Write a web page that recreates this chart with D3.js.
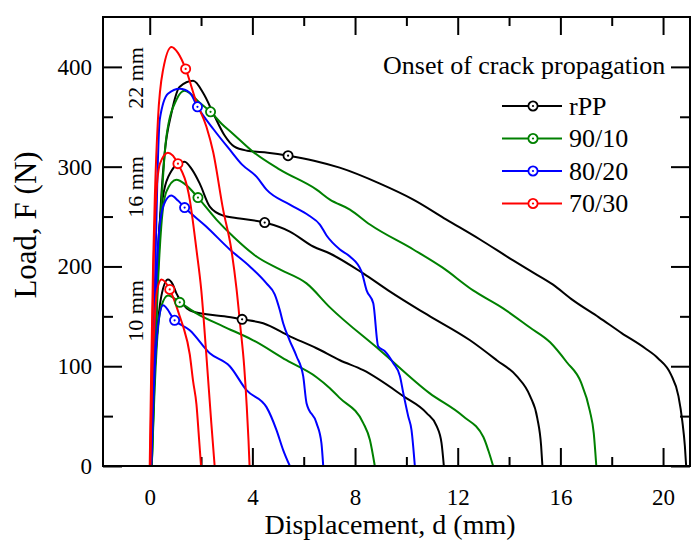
<!DOCTYPE html>
<html>
<head>
<meta charset="utf-8">
<script src="https://cdn.jsdelivr.net/npm/d3@7"></script>
<style>
body{margin:0;background:#fff;}
svg{display:block;font-family:"Liberation Serif","Times New Roman",serif;}
</style>
</head>
<body>
<svg id="chart" width="692" height="540"></svg>
<script>
// legend / series
const materials = ["rPP", "90/10", "80/20", "70/30"];
const colors = ["#000000", "#008000", "#0000ff", "#ff0000"];
const sizeLabels = ["10 mm", "16 mm", "22 mm"];
const xTicks = [0, 4, 8, 12, 16, 20];
const yTicks = [0, 100, 200, 300, 400];

// load-displacement curves [d (mm), F (N)]
const rPP_10 = [[0.05,0],[0.15,70],[0.28,130],[0.45,170],[0.71,187],[0.9,182],[1.04,173],[1.3,162],[1.56,156],[2.21,152],[2.9,150],[3.6,147],[4.42,143],[5.46,130],[6.5,118],[7.41,106],[8.32,96],[9.88,70],[10.79,53],[11.18,40],[11.37,23],[11.46,0]];
const rPP_16 = [[0.05,0],[0.12,80],[0.22,160],[0.35,230],[0.55,275],[0.85,296],[1.1,303],[1.36,305],[1.65,297],[1.95,283],[2.34,260],[2.86,251],[3.51,248],[4.48,244],[5.46,235],[6.37,220],[7.02,213],[8.32,193],[9.29,176],[10.53,156],[10.92,150],[12.48,126],[13.52,106],[14.3,90],[14.82,70],[15.1,48],[15.25,20],[15.3,0]];
const rPP_22 = [[0.05,0],[0.15,90],[0.3,190],[0.45,270],[0.58,313],[0.85,354],[1.17,380],[1.69,386],[2.1,373],[2.5,352],[2.9,332],[3.3,320],[3.8,316],[4.6,314],[5.4,311],[6.4,306],[7.4,299],[8.97,283],[10.27,267],[11.56,247],[12.87,227],[14.16,206],[14.8,196],[15.7,182],[16.5,166],[17.5,149],[18.4,133],[19.3,118],[19.8,108],[20.3,92],[20.6,70],[20.75,45],[20.85,20],[20.9,0]];

const b9010_10 = [[0.08,0],[0.18,70],[0.3,130],[0.45,160],[0.71,171],[1.17,164],[1.82,153],[2.86,140],[4.03,126],[5.33,106],[6.5,89],[7.02,78],[7.41,68],[8.32,43],[8.58,26],[8.77,0]];
const b9010_16 = [[0.08,0],[0.18,80],[0.3,170],[0.45,240],[0.65,275],[1.04,287],[1.4,282],[1.88,269],[2.6,247],[3.25,230],[4.16,210],[5.07,197],[6.11,183],[7.02,159],[8.97,116],[10.9,73],[12.2,50],[13.0,29],[13.2,15],[13.38,0]];
const b9010_22 = [[0.08,0],[0.18,90],[0.3,180],[0.45,260],[0.65,330],[1.04,367],[1.36,376],[1.95,364],[2.37,355],[2.8,343],[3.24,333],[4.02,315],[5.07,297],[6.5,277],[7.02,267],[7.8,257],[8.58,242],[10.27,217],[11.4,199],[12.6,176],[13.77,158],[14.8,139],[15.6,124],[16.25,104],[16.8,84],[17.15,55],[17.3,33],[17.4,0]];

const b8020_10 = [[0.06,0],[0.15,70],[0.28,130],[0.52,161],[0.97,146],[1.56,136],[2.34,113],[3.12,100],[3.77,76],[4.55,59],[4.94,36],[5.2,16],[5.46,0]];
const b8020_16 = [[0.05,0],[0.12,80],[0.22,160],[0.35,230],[0.55,262],[0.84,271],[1.1,266],[1.36,259],[2.2,240],[3.12,217],[3.9,200],[4.55,183],[4.87,172],[5.07,156],[5.2,143],[5.45,126],[5.72,110],[5.98,90],[6.11,63],[6.5,43],[6.69,23],[6.76,0]];
const b8020_22 = [[0.05,0],[0.12,100],[0.22,200],[0.3,290],[0.39,347],[0.71,373],[1.17,378],[1.56,374],[1.86,360],[2.5,337],[3.12,317],[3.6,302],[4.16,290],[4.55,277],[5.46,262],[6.2,251],[6.63,242],[6.89,231],[7.41,217],[7.8,210],[8.25,195],[8.45,176],[8.71,163],[8.9,120],[9.16,115],[9.49,103],[9.75,90],[9.88,73],[10.07,50],[10.2,36],[10.33,0]];

const b7030_10 = [[0.02,0],[0.1,90],[0.2,150],[0.3,178],[0.46,187],[0.78,177],[1.0,163],[1.17,150],[1.3,140],[1.56,112],[1.69,85],[1.82,62],[1.92,28],[2.0,0]];
const b7030_16 = [[0.02,0],[0.08,100],[0.15,200],[0.25,270],[0.4,303],[0.71,314],[1.1,303],[1.56,267],[1.82,217],[2.01,176],[2.21,110],[2.4,43],[2.53,0]];
const b7030_22 = [[0.0,0],[0.06,100],[0.13,200],[0.2,270],[0.32,347],[0.52,397],[0.85,420],[1.1,414],[1.4,398],[1.8,366],[2.21,340],[2.47,315],[2.86,257],[3.18,217],[3.38,178],[3.53,140],[3.68,100],[3.78,60],[3.85,25],[3.89,0]];

// onset of crack propagation (10, 16, 22 mm)
const onset_rPP = [[3.6,147],[4.48,244],[5.39,311]];
const onset_9010 = [[1.17,164],[1.88,269],[2.37,355]];
const onset_8020 = [[0.97,146],[1.36,259],[1.86,360]];
const onset_7030 = [[0.78,177],[1.1,303],[1.4,398]];

const curves = [rPP_10, rPP_16, rPP_22, b9010_10, b9010_16, b9010_22,
                b8020_10, b8020_16, b8020_22, b7030_10, b7030_16, b7030_22];
const onsets = [onset_rPP, onset_9010, onset_8020, onset_7030];

const margin = {top: 17, left: 103, right: 2, bottom: 74};
const W = 692, H = 540;
const width = W - margin.left - margin.right;
const height = H - margin.top - margin.bottom;

const svg = d3.select("#chart");
const g = svg.append("g").attr("transform", `translate(${margin.left},${margin.top})`);

const x = d3.scaleLinear().domain([-1.82, 21.05]).range([0, width]);
const y = d3.scaleLinear().domain([0, 450]).range([height, 0]);

const minorX = d3.range(2, 22, 4);
const minorY = d3.range(50, 450, 100);

function styleAxis(sel, fs) {
  sel.select(".domain").remove();
  sel.selectAll(".tick line").attr("stroke", "#000").attr("stroke-width", 2);
  sel.selectAll(".tick text").attr("font-size", fs).attr("fill", "#000")
     .attr("font-family", "'Liberation Serif','Times New Roman',serif");
}

// major ticks
g.append("g").attr("transform", `translate(0,${height})`)
  .call(d3.axisBottom(x).tickValues(xTicks).tickSize(-18).tickPadding(23))
  .call(s => styleAxis(s, 23));
g.append("g")
  .call(d3.axisTop(x).tickValues(xTicks).tickSize(-18).tickFormat(""))
  .call(s => styleAxis(s, 23));
g.append("g")
  .call(d3.axisLeft(y).tickValues(yTicks).tickSize(-19).tickPadding(11))
  .call(s => styleAxis(s, 23));
g.append("g").attr("transform", `translate(${width},0)`)
  .call(d3.axisRight(y).tickValues(yTicks).tickSize(-19).tickFormat(""))
  .call(s => styleAxis(s, 23));
// minor ticks
g.append("g").attr("transform", `translate(0,${height})`)
  .call(d3.axisBottom(x).tickValues(minorX).tickSize(-9).tickFormat(""))
  .call(s => styleAxis(s, 23));
g.append("g")
  .call(d3.axisTop(x).tickValues(minorX).tickSize(-9).tickFormat(""))
  .call(s => styleAxis(s, 23));
g.append("g")
  .call(d3.axisLeft(y).tickValues(minorY).tickSize(-10).tickFormat(""))
  .call(s => styleAxis(s, 23));
g.append("g").attr("transform", `translate(${width},0)`)
  .call(d3.axisRight(y).tickValues(minorY).tickSize(-10).tickFormat(""))
  .call(s => styleAxis(s, 23));

// curves
const line = d3.line().x(d => x(d[0])).y(d => y(d[1])).curve(d3.curveMonotoneX);
g.append("g").selectAll("path")
  .data(curves)
  .join("path")
  .attr("d", line)
  .attr("fill", "none")
  .attr("stroke", (d, i) => colors[Math.floor(i / 3)])
  .attr("stroke-width", 2)
  .attr("stroke-linejoin", "round");

// onset markers
function marker(sel, color) {
  sel.append("circle").attr("r", 4.6).attr("fill", "#fff")
    .attr("stroke", color).attr("stroke-width", 1.8);
  sel.append("circle").attr("r", 1.1).attr("fill", color);
}
onsets.forEach((pts, m) => {
  g.append("g").selectAll("g")
    .data(pts)
    .join("g")
    .attr("transform", d => `translate(${x(d[0])},${y(d[1])})`)
    .each(function() { marker(d3.select(this), colors[m]); });
});

// frame
g.append("rect").attr("width", width).attr("height", height)
  .attr("fill", "none").attr("stroke", "#000").attr("stroke-width", 2);

// specimen size labels
const sizeY = [311, 187, 78];
sizeLabels.forEach((t, i) => {
  svg.append("text")
    .attr("transform", `translate(135,${sizeY[i]}) rotate(-90)`)
    .attr("text-anchor", "middle").attr("dy", "0.35em")
    .attr("font-size", 22).text(t);
});

// legend
svg.append("text").attr("x", 383).attr("y", 74).attr("font-size", 26).text("Onset of crack propagation");
const leg = svg.append("g").selectAll("g")
  .data(materials)
  .join("g")
  .attr("transform", (d, i) => `translate(502,${106 + i * 32.5})`);
leg.append("line").attr("x1", 0).attr("x2", 60)
  .attr("stroke", (d, i) => colors[i]).attr("stroke-width", 2);
leg.each(function(d, i) {
  marker(d3.select(this).append("g").attr("transform", "translate(31,0)"), colors[i]);
});
leg.append("text").attr("x", 67).attr("dy", "0.34em").attr("font-size", 26).text(d => d);

// axis titles
svg.append("text").attr("x", 390).attr("y", 534).attr("text-anchor", "middle")
  .attr("font-size", 28).text("Displacement, d (mm)");
svg.append("text").attr("transform", "translate(36,225) rotate(-90)")
  .attr("text-anchor", "middle").attr("font-size", 31).text("Load, F (N)");
</script>
</body>
</html>
